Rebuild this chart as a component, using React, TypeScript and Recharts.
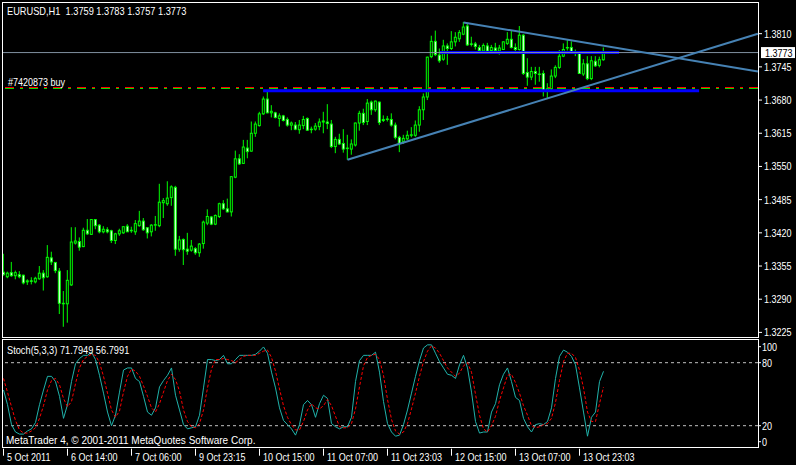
import { ComposedChart, LineChart, Line, Bar, XAxis, YAxis, ReferenceLine } from 'recharts';

const FONT = "'Liberation Sans', Arial, sans-serif";
const NARROW = 0.82;

// EURUSD H1 candles
const opens = [
  1.3343, 1.3334, 1.3342, 1.3336, 1.3338, 1.3337, 1.3324, 1.3326, 1.3324, 1.3330,
  1.3341, 1.3334, 1.3371, 1.3362, 1.3345, 1.3282, 1.3281, 1.3318, 1.3400, 1.3403,
  1.3393, 1.3425, 1.3417, 1.3446, 1.3435, 1.3422, 1.3426, 1.3424, 1.3405, 1.3418,
  1.3420, 1.3433, 1.3424, 1.3422, 1.3434, 1.3443, 1.3430, 1.3422, 1.3435, 1.3434,
  1.3479, 1.3477, 1.3489, 1.3509, 1.3388, 1.3407, 1.3388, 1.3386, 1.3389, 1.3381,
  1.3399, 1.3439, 1.3451, 1.3437, 1.3452, 1.3477, 1.3467, 1.3461, 1.3529, 1.3565,
  1.3556, 1.3586, 1.3580, 1.3615, 1.3630, 1.3653, 1.3682, 1.3655, 1.3655, 1.3644,
  1.3649, 1.3642, 1.3631, 1.3631, 1.3622, 1.3630, 1.3644, 1.3623, 1.3623, 1.3628,
  1.3637, 1.3637, 1.3633, 1.3589, 1.3603, 1.3595, 1.3586, 1.3584, 1.3592, 1.3635,
  1.3654, 1.3638, 1.3676, 1.3661, 1.3676, 1.3640, 1.3642, 1.3642, 1.3631, 1.3607,
  1.3599, 1.3604, 1.3611, 1.3611, 1.3631, 1.3661, 1.3686, 1.3765, 1.3795, 1.3768,
  1.3760, 1.3786, 1.3781, 1.3794, 1.3800, 1.3809, 1.3825, 1.3790, 1.3790, 1.3783,
  1.3776, 1.3786, 1.3777, 1.3782, 1.3776, 1.3779, 1.3791, 1.3799, 1.3783, 1.3779,
  1.3807, 1.3734, 1.3725, 1.3736, 1.3731, 1.3732, 1.3697, 1.3702, 1.3727, 1.3744,
  1.3766, 1.3783, 1.3783, 1.3774, 1.3773, 1.3731, 1.3751, 1.3722, 1.3756, 1.3748,
  1.3759,
];
const highs = [
  1.3379, 1.3344, 1.3363, 1.3346, 1.3345, 1.3338, 1.3329, 1.3333, 1.3334, 1.3355,
  1.3347, 1.3396, 1.3383, 1.3363, 1.3351, 1.3306, 1.3347, 1.3431, 1.3431, 1.3411,
  1.3430, 1.3447, 1.3447, 1.3447, 1.3437, 1.3433, 1.3431, 1.3426, 1.3420, 1.3428,
  1.3433, 1.3437, 1.3432, 1.3445, 1.3463, 1.3449, 1.3431, 1.3437, 1.3453, 1.3516,
  1.3488, 1.3521, 1.3513, 1.3512, 1.3414, 1.3409, 1.3420, 1.3406, 1.3392, 1.3400,
  1.3444, 1.3466, 1.3453, 1.3456, 1.3479, 1.3484, 1.3487, 1.3531, 1.3581, 1.3574,
  1.3602, 1.3602, 1.3638, 1.3638, 1.3657, 1.3687, 1.3696, 1.3670, 1.3657, 1.3654,
  1.3651, 1.3646, 1.3638, 1.3637, 1.3641, 1.3649, 1.3646, 1.3628, 1.3635, 1.3644,
  1.3657, 1.3672, 1.3641, 1.3608, 1.3614, 1.3623, 1.3612, 1.3603, 1.3636, 1.3659,
  1.3663, 1.3682, 1.3679, 1.3679, 1.3677, 1.3650, 1.3649, 1.3654, 1.3636, 1.3610,
  1.3612, 1.3620, 1.3627, 1.3640, 1.3668, 1.3693, 1.3765, 1.3806, 1.3816, 1.3781,
  1.3798, 1.3791, 1.3815, 1.3813, 1.3817, 1.3833, 1.3829, 1.3804, 1.3794, 1.3788,
  1.3791, 1.3792, 1.3788, 1.3792, 1.3788, 1.3795, 1.3813, 1.3817, 1.3791, 1.3825,
  1.3809, 1.3762, 1.3745, 1.3745, 1.3745, 1.3738, 1.3713, 1.3740, 1.3748, 1.3778,
  1.3791, 1.3798, 1.3795, 1.3779, 1.3774, 1.3760, 1.3766, 1.3766, 1.3766, 1.3765,
  1.3783,
];
const lows = [
  1.3336, 1.3331, 1.3334, 1.3329, 1.3331, 1.3319, 1.3318, 1.3319, 1.3321, 1.3328,
  1.3307, 1.3332, 1.3357, 1.3341, 1.3261, 1.3236, 1.3244, 1.3316, 1.3397, 1.3385,
  1.3392, 1.3416, 1.3416, 1.3427, 1.3419, 1.3419, 1.3419, 1.3400, 1.3398, 1.3414,
  1.3418, 1.3422, 1.3420, 1.3416, 1.3432, 1.3424, 1.3409, 1.3413, 1.3424, 1.3431,
  1.3449, 1.3473, 1.3473, 1.3375, 1.3383, 1.3357, 1.3377, 1.3383, 1.3377, 1.3373,
  1.3389, 1.3435, 1.3435, 1.3435, 1.3449, 1.3465, 1.3460, 1.3452, 1.3527, 1.3553,
  1.3555, 1.3566, 1.3579, 1.3608, 1.3628, 1.3651, 1.3654, 1.3646, 1.3644, 1.3628,
  1.3638, 1.3628, 1.3621, 1.3621, 1.3614, 1.3623, 1.3620, 1.3615, 1.3620, 1.3621,
  1.3615, 1.3623, 1.3586, 1.3576, 1.3592, 1.3577, 1.3563, 1.3573, 1.3589, 1.3620,
  1.3631, 1.3631, 1.3651, 1.3657, 1.3631, 1.3637, 1.3638, 1.3628, 1.3603, 1.3578,
  1.3594, 1.3602, 1.3607, 1.3608, 1.3618, 1.3641, 1.3680, 1.3762, 1.3766, 1.3753,
  1.3757, 1.3749, 1.3778, 1.3785, 1.3794, 1.3807, 1.3786, 1.3785, 1.3779, 1.3773,
  1.3773, 1.3773, 1.3773, 1.3773, 1.3769, 1.3778, 1.3788, 1.3781, 1.3773, 1.3777,
  1.3729, 1.3708, 1.3719, 1.3710, 1.3716, 1.3687, 1.3684, 1.3700, 1.3723, 1.3741,
  1.3764, 1.3777, 1.3772, 1.3766, 1.3731, 1.3727, 1.3719, 1.3719, 1.3745, 1.3744,
  1.3757,
];
const closes = [
  1.3338, 1.3341, 1.3336, 1.3342, 1.3334, 1.3322, 1.3326, 1.3325, 1.3331, 1.3341,
  1.3332, 1.3372, 1.3363, 1.3346, 1.3282, 1.3281, 1.3327, 1.3402, 1.3404, 1.3392,
  1.3425, 1.3418, 1.3446, 1.3434, 1.3422, 1.3427, 1.3422, 1.3405, 1.3418, 1.3424,
  1.3432, 1.3422, 1.3425, 1.3438, 1.3443, 1.3426, 1.3420, 1.3435, 1.3436, 1.3480,
  1.3483, 1.3488, 1.3510, 1.3388, 1.3406, 1.3387, 1.3384, 1.3394, 1.3381, 1.3398,
  1.3441, 1.3452, 1.3437, 1.3454, 1.3477, 1.3467, 1.3461, 1.3530, 1.3565, 1.3555,
  1.3588, 1.3579, 1.3615, 1.3633, 1.3653, 1.3682, 1.3655, 1.3658, 1.3646, 1.3649,
  1.3640, 1.3631, 1.3635, 1.3623, 1.3631, 1.3642, 1.3621, 1.3622, 1.3629, 1.3637,
  1.3639, 1.3634, 1.3589, 1.3603, 1.3594, 1.3584, 1.3585, 1.3594, 1.3635, 1.3654,
  1.3636, 1.3674, 1.3661, 1.3678, 1.3636, 1.3642, 1.3643, 1.3631, 1.3607, 1.3595,
  1.3605, 1.3611, 1.3612, 1.3631, 1.3661, 1.3686, 1.3764, 1.3795, 1.3769, 1.3757,
  1.3786, 1.3781, 1.3794, 1.3803, 1.3812, 1.3823, 1.3788, 1.3789, 1.3785, 1.3777,
  1.3787, 1.3776, 1.3783, 1.3777, 1.3782, 1.3794, 1.3799, 1.3783, 1.3779, 1.3807,
  1.3732, 1.3725, 1.3736, 1.3732, 1.3730, 1.3698, 1.3702, 1.3727, 1.3744, 1.3766,
  1.3779, 1.3782, 1.3774, 1.3773, 1.3732, 1.3751, 1.3722, 1.3757, 1.3747, 1.3759,
  1.3773,
];

// Stochastic(5,3,3): main (%K) and signal (%D)
const stochK = [
  54, 40, 21, 14, 12, 12, 15, 17, 23, 40, 54, 67, 67, 62, 48, 27, 40, 62, 79, 84,
  87, 87, 90, 83, 68, 51, 33, 20, 30, 52, 73, 75, 75, 65, 62, 48, 33, 30, 37, 57,
  63, 68, 75, 49, 35, 21, 17, 18, 19, 30, 56, 83, 83, 82, 83, 87, 79, 79, 83, 87,
  87, 87, 87, 88, 91, 95, 89, 71, 56, 37, 25, 21, 17, 11, 21, 40, 44, 40, 28, 41,
  49, 46, 22, 19, 17, 19, 19, 28, 62, 82, 87, 87, 87, 90, 71, 43, 22, 14, 10, 11,
  21, 35, 51, 67, 82, 94, 97, 97, 89, 81, 75, 69, 68, 65, 78, 87, 75, 52, 24, 13,
  14, 14, 33, 41, 59, 69, 75, 62, 47, 44, 27, 19, 14, 21, 22, 21, 24, 37, 65, 86,
  92, 90, 86, 78, 56, 33, 10, 28, 33, 62, 71.7949,
];
const stochD = [
  65, 52, 38, 25, 16, 13, 13, 15, 18, 27, 39, 54, 63, 65, 59, 46, 38, 43, 60, 75,
  83, 86, 88, 87, 80, 67, 51, 35, 28, 34, 52, 67, 74, 72, 67, 58, 48, 37, 33, 41,
  52, 63, 69, 64, 53, 35, 24, 19, 18, 22, 35, 56, 74, 83, 83, 84, 83, 82, 80, 83,
  86, 87, 87, 87, 89, 91, 92, 85, 72, 55, 39, 28, 21, 16, 16, 24, 35, 41, 37, 36,
  39, 45, 39, 29, 19, 18, 18, 22, 36, 57, 77, 85, 87, 88, 83, 68, 45, 26, 15, 12,
  14, 22, 36, 51, 67, 81, 91, 96, 94, 89, 82, 75, 71, 67, 70, 77, 80, 71, 50, 30,
  17, 14, 20, 29, 44, 56, 68, 69, 61, 51, 39, 30, 20, 18, 19, 21, 22, 27, 42, 63,
  81, 89, 89, 85, 73, 56, 33, 24, 24, 41, 56.7991,
];

const timeLabels = [
  '5 Oct 2011', '6 Oct 14:00', '7 Oct 06:00', '9 Oct 23:15', '10 Oct 15:00',
  '11 Oct 07:00', '11 Oct 23:03', '12 Oct 15:00', '13 Oct 07:00', '13 Oct 23:03',
];
const labelStep = 16;
const priceTicks = [1.3225, 1.329, 1.3355, 1.342, 1.3485, 1.355, 1.3615, 1.368, 1.3745, 1.381];
const stochTicks = [0, 20, 80, 100];

const lastPrice = 1.3773;
const orderPrice = 1.3703;
const orderLabel = '#7420873 buy';
// horizontal levels drawn between two bar indices
const resistance = { from: 109.1, to: 153.9, price: 1.3773 };
const support = { from: 64.9, to: 173.9, price: 1.3698 };
const upperTrend = [{ x: 115, y: 1.3832 }, { x: 188.6, y: 1.3736 }];
const lowerTrend = [{ x: 86, y: 1.3563 }, { x: 188.6, y: 1.381 }];

const X_DOMAIN = [-0.375, 188.625];
const LIME = '#00ff00';

const candles = opens.map((open, i) => ({
  i,
  open,
  high: highs[i],
  low: lows[i],
  close: closes[i],
  k: stochK[i],
  d: stochD[i],
}));

// svg text squeezed horizontally, the terminal font is narrow
const Txt = ({ x, y, fill = '#fff', children }: any) => (
  <text transform={`translate(${x} ${y}) scale(${NARROW} 1)`} fill={fill} fontSize={11} fontFamily={FONT}>
    {children}
  </text>
);

const Candle = (props: any) => {
  const { x, y, width, height, payload } = props;
  const { open, close, high, low } = payload;
  const cx = x + width / 2;
  const span = high - low || 1e-9;
  const yOf = (v: number) => y + ((high - v) / span) * height;
  const top = yOf(Math.max(open, close));
  const bot = yOf(Math.min(open, close));
  const bear = close < open;
  return (
    <g>
      <line x1={cx} x2={cx} y1={y} y2={y + height} stroke={LIME} strokeWidth={1} />
      <rect
        x={cx - 1}
        y={top}
        width={2}
        height={Math.max(bot - top, 0.3)}
        fill={bear ? '#ffffff' : '#000000'}
        stroke={LIME}
        strokeWidth={1}
      />
    </g>
  );
};

const PriceTick = ({ x, y, payload }: any) => (
  <g>
    <line x1={x + 1} x2={x + 4} y1={y} y2={y} stroke="#fff" />
    <Txt x={x + 6} y={y + 4}>{payload.value.toFixed(4)}</Txt>
  </g>
);

const StochTick = ({ x, y, payload }: any) => {
  const v = payload.value;
  const ty = v === 100 ? y + 5 : v === 0 ? y - 5 : y;
  return (
    <g>
      <line x1={x + 1} x2={x + 3} y1={ty} y2={ty} stroke="#fff" />
      <Txt x={x + 4} y={ty + 4}>{v}</Txt>
    </g>
  );
};

const TimeTick = ({ x, y, payload }: any) => (
  <g>
    <line x1={x} x2={x} y1={y + 2} y2={y + 9} stroke="#fff" />
    <Txt x={x + 3.5} y={y + 14}>{timeLabels[Math.round(payload.value / labelStep)]}</Txt>
  </g>
);

const PriceTag = ({ viewBox, text }: any) => {
  const left = viewBox.x + viewBox.width + 3;
  return (
    <g>
      <rect x={left} y={viewBox.y - 5.5} width={34} height={11} fill="#fff" />
      <Txt x={left + 4} y={viewBox.y + 4} fill="#000">{text}</Txt>
    </g>
  );
};

const OrderLine = ({ x1, x2, y1 }: any) => {
  const row = Math.round(y1);
  return (
    <g>
      <line x1={x1} x2={x2} y1={row - 0.5} y2={row - 0.5} stroke="#ff0000" strokeDasharray="9 6 3 6" />
      <line x1={x1} x2={x2} y1={row + 0.5} y2={row + 0.5} stroke="#00e000" strokeDasharray="9 6 3 6" />
    </g>
  );
};

const last = candles[candles.length - 1];
const header = `EURUSD,H1\u00a0\u00a0${last.open.toFixed(4)} ${last.high.toFixed(4)} ${last.low.toFixed(4)} ${last.close.toFixed(4)}`;

export default function App() {
  const textStyle = {
    position: 'absolute' as const,
    color: '#fff',
    fontSize: 11,
    lineHeight: '12px',
    fontFamily: FONT,
    whiteSpace: 'pre' as const,
    transform: 'scaleX(0.84)',
    transformOrigin: 'left top',
  };
  return (
    <div style={{ position: 'fixed', left: 0, top: 0, width: 796, height: 465, background: '#000', overflow: 'hidden' }}>
      <div style={{ position: 'absolute', left: 0, top: 0 }}>
        <ComposedChart width={796} height={340} data={candles} margin={{ top: 1, right: 0, bottom: 3, left: 2 }}>
          <XAxis dataKey="i" type="number" domain={X_DOMAIN} hide allowDataOverflow />
          <YAxis
            orientation="right"
            width={38}
            domain={[1.3216, 1.3874]}
            ticks={priceTicks}
            interval={0}
            tick={<PriceTick />}
            tickLine={false}
            axisLine={false}
            tickSize={0}
            tickMargin={0}
            allowDataOverflow
          />
          <ReferenceLine
            y={orderPrice}
            shape={(p: any) => <OrderLine {...p} />}
            label={(p: any) => <Txt x={p.viewBox.x + 6} y={p.viewBox.y - 2.5}>{orderLabel}</Txt>}
          />
          <Bar dataKey={(d: any) => [d.low, d.high]} shape={<Candle />} barSize={4} isAnimationActive={false} />
          <ReferenceLine
            segment={[{ x: support.from, y: support.price }, { x: support.to, y: support.price }]}
            stroke="#0000ff"
            strokeWidth={3}
          />
          <ReferenceLine
            segment={[{ x: resistance.from, y: resistance.price }, { x: resistance.to, y: resistance.price }]}
            stroke="#0000ff"
            strokeWidth={3}
          />
          <ReferenceLine
            y={lastPrice}
            stroke="#8090a0"
            strokeWidth={1}
            label={(p: any) => <PriceTag {...p} text={lastPrice.toFixed(4)} />}
          />
          <ReferenceLine segment={upperTrend} stroke="#4682b4" strokeWidth={2} />
          <ReferenceLine segment={lowerTrend} stroke="#4682b4" strokeWidth={2} />
        </ComposedChart>
      </div>
      <div style={{ position: 'absolute', left: 0, top: 339 }}>
        <LineChart width={796} height={126} data={candles} margin={{ top: 2.7, right: 0, bottom: 0, left: 2 }}>
          <XAxis
            dataKey="i"
            type="number"
            domain={X_DOMAIN}
            ticks={timeLabels.map((_, n) => n * labelStep)}
            interval={0}
            tick={<TimeTick />}
            height={18.3}
            tickLine={false}
            axisLine={false}
            tickSize={0}
            tickMargin={0}
            allowDataOverflow
          />
          <YAxis
            orientation="right"
            width={38}
            domain={[0, 100]}
            ticks={stochTicks}
            interval={0}
            tick={<StochTick />}
            tickLine={false}
            axisLine={false}
            tickSize={0}
            tickMargin={0}
          />
          <ReferenceLine y={80} stroke="#c0c0c0" strokeDasharray="3 3" />
          <ReferenceLine y={20} stroke="#c0c0c0" strokeDasharray="3 3" />
          <Line type="linear" dataKey="k" stroke="#20b2aa" strokeWidth={1} dot={false} isAnimationActive={false} />
          <Line type="linear" dataKey="d" stroke="#ff0000" strokeWidth={1} strokeDasharray="3 2" dot={false} isAnimationActive={false} />
        </LineChart>
      </div>
      <div style={{ position: 'absolute', left: 2, top: 2, width: 757, height: 336, border: '1px solid #fff', boxSizing: 'border-box', pointerEvents: 'none' }} />
      <div style={{ position: 'absolute', left: 2, top: 339, width: 757, height: 109, border: '1px solid #fff', boxSizing: 'border-box', pointerEvents: 'none' }} />
      <div style={{ ...textStyle, left: 7, top: 4.5 }}>{header}</div>
      <div style={{ ...textStyle, left: 7, top: 344 }}>
        {`Stoch(5,3,3) ${last.k.toFixed(4)} ${last.d.toFixed(4)}`}
      </div>
      <div style={{ ...textStyle, left: 6, top: 434, transform: 'scaleX(0.91)' }}>
        MetaTrader 4, © 2001-2011 MetaQuotes Software Corp.
      </div>
    </div>
  );
}
